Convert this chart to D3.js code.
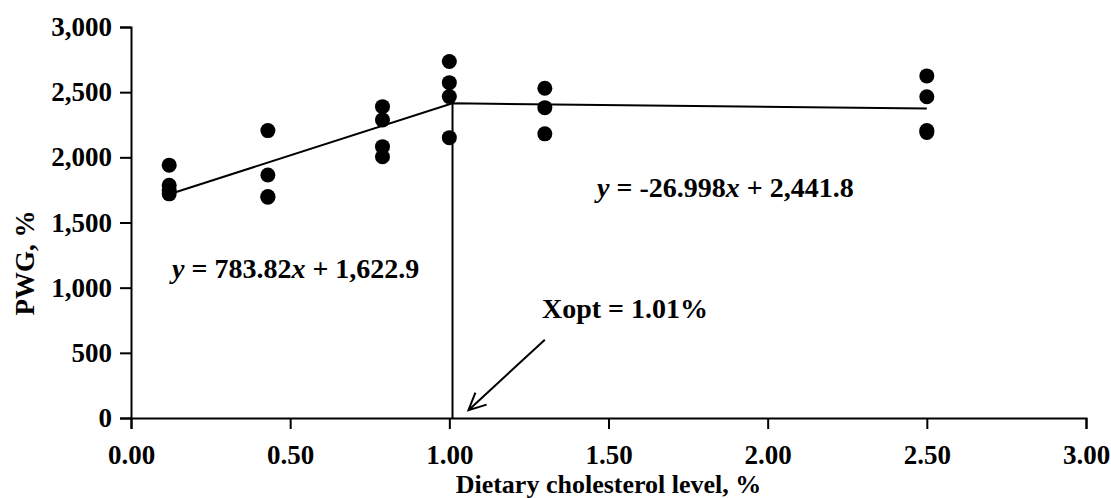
<!DOCTYPE html>
<html>
<head>
<meta charset="utf-8">
<script src="https://cdn.jsdelivr.net/npm/d3@7"></script>
<style>
  body { margin: 0; background: #fff; }
  svg text { font-family: "Liberation Serif", "Times New Roman", serif; font-weight: bold; fill: #000; }
</style>
</head>
<body>
<div id="chart"></div>
<script>
// cholesterol levels and PWG replicates
const levels = [0.12, 0.43, 0.79, 1.00, 1.30, 2.50];
const pwg = [
    [1940, 1785, 1745, 1720],
    [2205, 1865, 1700, 1694],
    [2389, 2287, 2082, 2005],
    [2735, 2573, 2466, 2151],
    [2530, 2381, 2180],
    [2625, 2465, 2205, 2190]
];
const xTicks = [0, 0.5, 1.0, 1.5, 2.0, 2.5, 3.0];
const yTicks = [0, 500, 1000, 1500, 2000, 2500, 3000];

// broken-line fit
const fitLeft = {slope: 783.82, intercept: 1622.9, from: 0.12};
const fitRight = {slope: -26.998, intercept: 2441.8, to: 2.50};
const xopt = 1.01;

// annotation arrow (data units): start, tip
const arrowFrom = [1.30, 600];
const arrowTo = [1.06, 60];

const width = 1111, height = 498;
const margin = {top: 27, right: 25, bottom: 80, left: 131};

const svg = d3.select("#chart")
    .append("svg")
    .attr("width", width)
    .attr("height", height);

const x = d3.scaleLinear()
    .domain([0, 3])
    .range([margin.left, width - margin.right]);
const y = d3.scaleLinear()
    .domain([0, 3000])
    .range([height - margin.bottom, margin.top]);

// axes
const xAxis = svg.append("g")
    .attr("transform", "translate(0," + y(0) + ")")
    .call(d3.axisBottom(x).tickValues(xTicks).tickFormat(d3.format(".2f")).tickSize(11).tickPadding(16));
const yAxis = svg.append("g")
    .attr("transform", "translate(" + x(0) + ",0)")
    .call(d3.axisLeft(y).tickValues(yTicks).tickFormat(d3.format(",")).tickSize(11).tickPadding(8));

[xAxis, yAxis].forEach(g => {
    g.select(".domain").attr("stroke", "#000").attr("stroke-width", 2);
    g.selectAll(".tick line").attr("stroke", "#000").attr("stroke-width", 2);
    g.selectAll("text").style("font-size", "27px").attr("fill", "#000");
});

svg.append("text")
    .attr("x", (x(0) + x(3)) / 2)
    .attr("y", 493)
    .attr("text-anchor", "middle")
    .style("font-size", "26px")
    .text("Dietary cholesterol level, %");

svg.append("text")
    .attr("transform", "translate(34," + 263 + ") rotate(-90)")
    .attr("text-anchor", "middle")
    .style("font-size", "27px")
    .text("PWG, %");

// fitted lines
const yBreak = fitLeft.slope * xopt + fitLeft.intercept;
const fitPts = [
    [fitLeft.from, fitLeft.slope * fitLeft.from + fitLeft.intercept],
    [xopt, yBreak],
    [fitRight.to, fitRight.slope * fitRight.to + fitRight.intercept]
];
svg.append("path")
    .datum(fitPts)
    .attr("fill", "none")
    .attr("stroke", "#000")
    .attr("stroke-width", 2)
    .attr("d", d3.line().x(d => x(d[0])).y(d => y(d[1])));

svg.append("line")
    .attr("x1", x(xopt)).attr("x2", x(xopt))
    .attr("y1", y(0)).attr("y2", y(yBreak))
    .attr("stroke", "#000")
    .attr("stroke-width", 2);

// points
const points = [];
levels.forEach((lv, i) => pwg[i].forEach(v => points.push({x: lv, y: v})));
svg.append("g")
    .selectAll("circle")
    .data(points)
    .join("circle")
        .attr("cx", d => x(d.x))
        .attr("cy", d => y(d.y))
        .attr("r", 7.5)
        .attr("fill", "#000");

// equations
const eqLeft = svg.append("text")
    .attr("x", 172).attr("y", 278)
    .style("font-size", "28px");
eqLeft.append("tspan").style("font-style", "italic").text("y");
eqLeft.append("tspan").text(" = 783.82");
eqLeft.append("tspan").style("font-style", "italic").text("x");
eqLeft.append("tspan").text(" + 1,622.9");

const eqRight = svg.append("text")
    .attr("x", 597).attr("y", 197)
    .style("font-size", "28px");
eqRight.append("tspan").style("font-style", "italic").text("y");
eqRight.append("tspan").text(" = -26.998");
eqRight.append("tspan").style("font-style", "italic").text("x");
eqRight.append("tspan").text(" + 2,441.8");

svg.append("text")
    .attr("x", 542).attr("y", 318)
    .style("font-size", "28px")
    .text("Xopt = 1.01%");

// arrow
const ax0 = x(arrowFrom[0]), ay0 = y(arrowFrom[1]);
const ax1 = x(arrowTo[0]), ay1 = y(arrowTo[1]);
const ang = Math.atan2(ay1 - ay0, ax1 - ax0);
const headLen = 19, headSpread = 0.45;
svg.append("path")
    .attr("fill", "none")
    .attr("stroke", "#000")
    .attr("stroke-width", 2)
    .attr("d",
        "M" + ax0 + "," + ay0 + "L" + ax1 + "," + ay1 +
        "M" + (ax1 - headLen * Math.cos(ang - headSpread)) + "," + (ay1 - headLen * Math.sin(ang - headSpread)) +
        "L" + ax1 + "," + ay1 +
        "L" + (ax1 - headLen * Math.cos(ang + headSpread)) + "," + (ay1 - headLen * Math.sin(ang + headSpread)));
</script>
</body>
</html>
